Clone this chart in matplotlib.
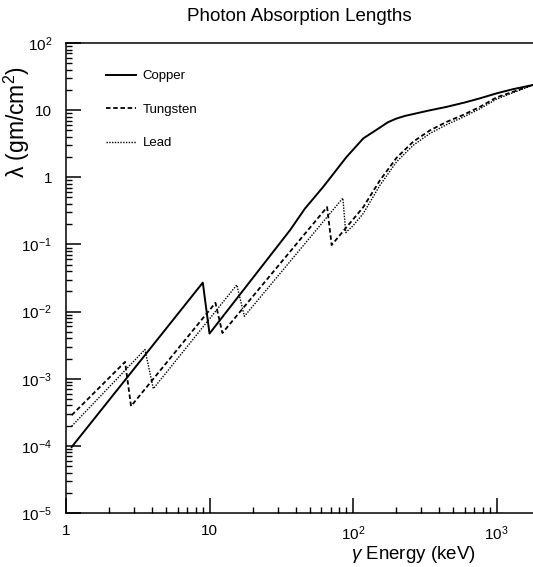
import matplotlib
matplotlib.use("Agg")
import matplotlib.pyplot as plt
from matplotlib.ticker import FixedLocator, FixedFormatter, LogLocator, NullFormatter

plt.rcParams['font.family'] = ['Liberation Sans', 'DejaVu Sans']
plt.rcParams['mathtext.fontset'] = 'custom'
plt.rcParams['mathtext.rm'] = 'Liberation Sans'
plt.rcParams['mathtext.it'] = 'Liberation Sans:italic'

# ---- data (energy in keV, absorption length in g/cm^2) ----
cu_E   = [1.095, 8.98, 10.0, 36.4, 46.3, 62.0, 90.0, 118.0, 154.0, 175.0, 201.0, 230.0, 263.0, 340.0, 450.0, 600.0, 767.0, 1002.0, 1300.0, 1796.0]
cu_lam = [9.6e-5, 0.027, 0.0047, 0.163, 0.343, 0.72, 2.0, 3.8, 5.5, 6.6, 7.5, 8.2, 8.75, 9.9, 11.2, 13.0, 15.0, 17.8, 20.5, 23.7]

w_E   = [1.095, 2.58, 2.84, 11.0, 12.3, 66.0, 71.0, 90.0, 118.0, 154.0, 201.0, 263.0, 344.0, 450.0, 587.0, 767.0, 1002.0, 1310.0, 1796.0]
w_lam = [2.86e-4, 1.78e-3, 3.9e-4, 0.0135, 0.0048, 0.36, 0.098, 0.18, 0.36, 0.90, 1.95, 3.4, 5.0, 6.7, 8.5, 11.2, 15.5, 18.8, 24.0]

pb_E   = [1.095, 3.55, 4.06, 15.5, 17.5, 85.0, 89.0, 100.0, 118.0, 154.0, 201.0, 263.0, 344.0, 450.0, 587.0, 767.0, 1002.0, 1310.0, 1796.0]
pb_lam = [1.96e-4, 2.72e-3, 7.1e-4, 0.025, 0.0085, 0.49, 0.15, 0.19, 0.29, 0.76, 1.70, 3.0, 4.5, 6.1, 7.9, 10.5, 14.6, 18.3, 23.5]

x_ticks = [1, 10, 100, 1000]
x_labels = ['1', '10', '10$^{2}$', '10$^{3}$']
y_ticks = [1e-5, 1e-4, 1e-3, 1e-2, 1e-1, 1, 10, 100]
y_labels = ['10$^{-5}$', '10$^{-4}$', '10$^{-3}$', '10$^{-2}$', '10$^{-1}$', '1', '10', '10$^{2}$']

fig = plt.figure(figsize=(5.33, 5.67), dpi=100)
ax = fig.add_axes([66/533, 54/567, 1 - 66/533, 470/567])

ax.plot(cu_E, cu_lam, color='black', lw=1.4, ls='-', label='Copper')
ax.plot(w_E, w_lam, color='black', lw=1.3, ls=(0, (2.5, 1.5)), label='Tungsten')
ax.plot(pb_E, pb_lam, color='black', lw=1.0, ls=(0, (1, 1)), label='Lead')

ax.set_xscale('log')
ax.set_yscale('log')
ax.set_xlim(1, 1796)
ax.set_ylim(1e-5, 1e2)

ax.xaxis.set_major_locator(FixedLocator(x_ticks))
ax.xaxis.set_major_formatter(FixedFormatter(x_labels))
ax.yaxis.set_major_locator(FixedLocator(y_ticks))
ax.yaxis.set_major_formatter(FixedFormatter(y_labels))
ax.xaxis.set_minor_locator(LogLocator(base=10, subs=range(2, 10), numticks=20))
ax.yaxis.set_minor_locator(LogLocator(base=10, subs=range(2, 10), numticks=20))
ax.xaxis.set_minor_formatter(NullFormatter())
ax.yaxis.set_minor_formatter(NullFormatter())

ax.tick_params(which='both', direction='in', top=False, right=False, colors='black', labelsize=11)
ax.tick_params(which='major', length=10.5, width=1.1)
ax.tick_params(which='minor', length=4.5, width=1.0)
ax.tick_params(axis='x', pad=8)
ax.tick_params(axis='y', pad=10)

for s in ['left', 'bottom', 'top']:
    ax.spines[s].set_linewidth(1.1)
ax.spines['right'].set_visible(False)

ax.set_title('Photon Absorption Lengths', fontsize=13.5, pad=16)
ax.set_xlabel('$\\gamma$ Energy (keV)', fontsize=13.5)
ax.xaxis.set_label_coords(0.745, -0.066)
ax.set_ylabel('λ (gm/cm$^{2}$)', fontsize=16.5)
ax.yaxis.set_label_coords(-0.072, 0.832)

leg = ax.legend(loc='upper left', bbox_to_anchor=(0.085, 0.942), frameon=False,
                fontsize=9.5, handlelength=2.3, handletextpad=0.5, labelspacing=1.6,
                borderaxespad=0, borderpad=0)

fig.savefig('out.png', dpi=100)
